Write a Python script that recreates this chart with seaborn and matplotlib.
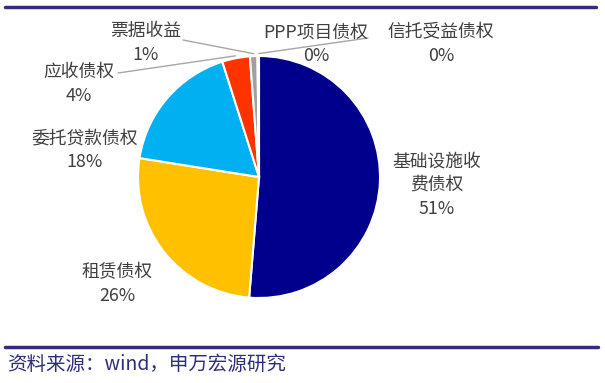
import numpy as np
import matplotlib
matplotlib.use("Agg")
import matplotlib.pyplot as plt
from matplotlib.lines import Line2D
import seaborn as sns

# slices, clockwise from 12 o'clock
categories = ["基础设施收\n费债权", "租赁债权", "委托贷款债权", "应收债权", "票据收益", "PPP项目债权", "信托受益债权"]
shares = [51.3, 26.2, 17.6, 3.7, 1.0, 0.15, 0.05]
pct_labels = ["51%", "26%", "18%", "4%", "1%", "0%", "0%"]
slice_colors = ["#00008C", "#FFC000", "#00B0F0", "#FF3300", "#A0A0A0", "#D9D9D9", "#D9D9D9"]
source_text = "资料来源：wind，申万宏源研究"

sns.set_theme(style="white")
plt.rcParams["font.family"] = ["Noto Sans CJK SC", "DejaVu Sans"]

W, H = 605, 383
CX, CY, R = 259, 177, 121  # pie centre / radius in pixels


def px2data(px, py):
    return (px - CX) / R, (CY - py) / R


fig = plt.figure(figsize=(W / 100, H / 100), dpi=100)
fig.patch.set_facecolor("white")
ax = fig.add_axes([(CX - R) / W, (H - CY - R) / H, 2 * R / W, 2 * R / H])

wedges, _ = ax.pie(
    shares,
    colors=slice_colors,
    startangle=90,
    counterclock=False,
    radius=1.0,
    wedgeprops=dict(edgecolor="white", linewidth=1.5),
)
ax.set_xlim(-1, 1)
ax.set_ylim(-1, 1)
ax.set_aspect("equal")
ax.axis("off")

# label centres (pixels) and optional leader-line start points
label_pos = [(437, 185), (117, 284), (85, 150), (79, 84), (146, 43), (316, 44), (441, 44)]
leader_start = [None, None, None, (118, 73), (183, 40), None, (368, 38)]

for w, name, pct, pos, lead in zip(wedges, categories, pct_labels, label_pos, leader_start):
    tx, ty = px2data(*pos)
    ax.text(tx, ty, f"{name}\n{pct}", ha="center", va="center", fontsize=12.8,
            color="#404040", linespacing=1.4)
    if lead is not None:
        mid = np.deg2rad((w.theta1 + w.theta2) / 2)
        ex, ey = 1.02 * np.cos(mid), 1.02 * np.sin(mid)
        sx, sy = px2data(*lead)
        ax.plot([sx, ex], [sy, ey], color="#A6A6A6", lw=1.0, clip_on=False)

# frame lines and source note
line_color = "#362C7A"
fig.add_artist(Line2D([5 / W, 596 / W], [1 - 7 / H, 1 - 7 / H], color=line_color, lw=2.5,
                      transform=fig.transFigure))
fig.add_artist(Line2D([5 / W, 598 / W], [1 - 347 / H, 1 - 347 / H], color=line_color, lw=2.5,
                      transform=fig.transFigure))
fig.text(7 / W, 1 - 364 / H, source_text, ha="left", va="center", fontsize=14,
         color="#2E2E7A")

fig.savefig("out.png", dpi=100)
